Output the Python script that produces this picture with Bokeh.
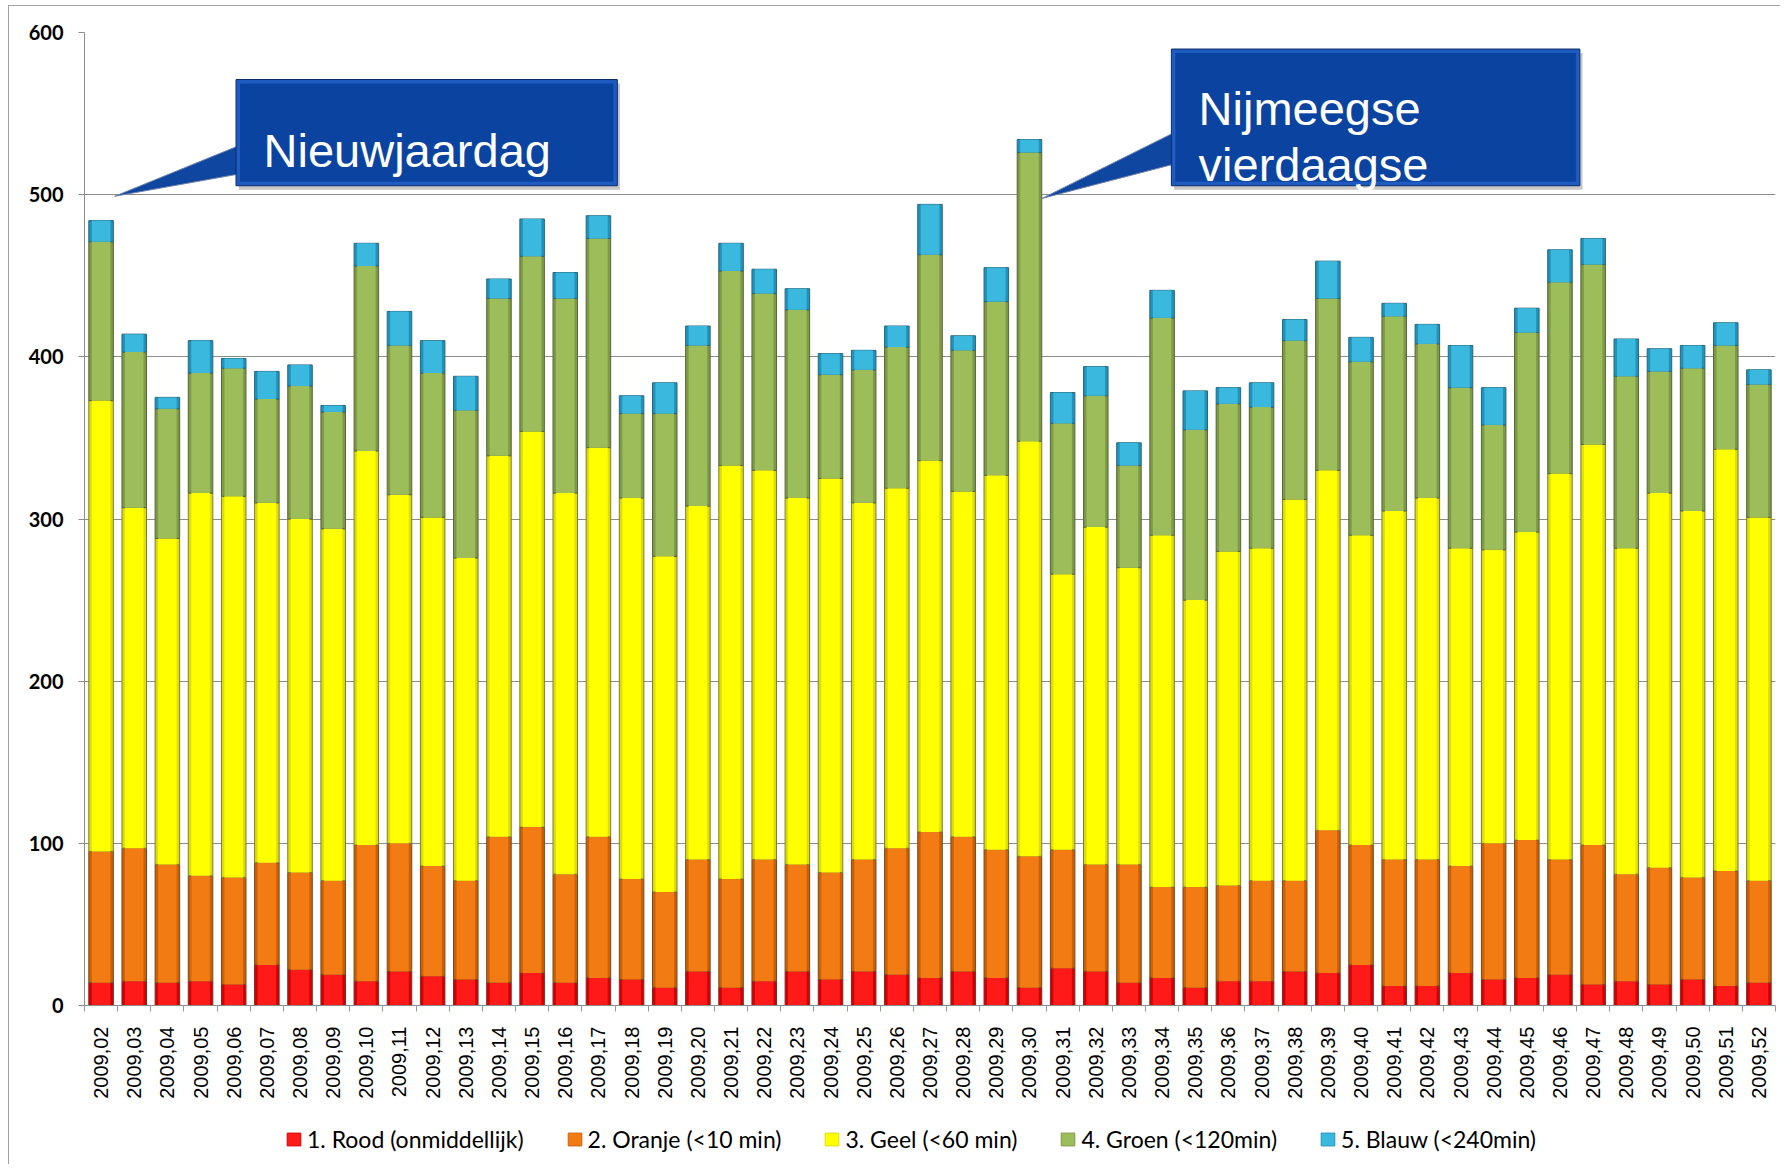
import numpy as np
from bokeh.plotting import figure
from bokeh.layouts import column
from bokeh.models import (ColumnDataSource, FixedTicker, Legend, LegendItem, Range1d,
                          CustomJSTickFormatter)
from bokeh.core.properties import value
from bokeh.embed import file_html
from bokeh.resources import INLINE

weeks = ["2009,02", "2009,03", "2009,04", "2009,05", "2009,06", "2009,07", "2009,08",
         "2009,09", "2009,10", "2009,11", "2009,12", "2009,13", "2009,14", "2009,15",
         "2009,16", "2009,17", "2009,18", "2009,19", "2009,20", "2009,21", "2009,22",
         "2009,23", "2009,24", "2009,25", "2009,26", "2009,27", "2009,28", "2009,29",
         "2009,30", "2009,31", "2009,32", "2009,33", "2009,34", "2009,35", "2009,36",
         "2009,37", "2009,38", "2009,39", "2009,40", "2009,41", "2009,42", "2009,43",
         "2009,44", "2009,45", "2009,46", "2009,47", "2009,48", "2009,49", "2009,50",
         "2009,51", "2009,52"]

rood = [14, 15, 14, 15, 13, 25, 22, 19, 15, 21, 18, 16, 14, 20, 14, 17, 16, 11, 21, 11,
        15, 21, 16, 21, 19, 17, 21, 17, 11, 23, 21, 14, 17, 11, 15, 15, 21, 20, 25, 12,
        12, 20, 16, 17, 19, 13, 15, 13, 16, 12, 14]
oranje = [81, 82, 73, 65, 66, 63, 60, 58, 84, 79, 68, 61, 90, 90, 67, 87, 62, 59, 69, 67,
          75, 66, 66, 69, 78, 90, 83, 79, 81, 73, 66, 73, 56, 62, 59, 62, 56, 88, 74, 78,
          78, 66, 84, 85, 71, 86, 66, 72, 63, 71, 63]
geel = [278, 210, 201, 236, 235, 222, 218, 217, 243, 215, 215, 199, 235, 244, 235, 240,
        235, 207, 218, 255, 240, 226, 243, 220, 222, 229, 213, 231, 256, 170, 208, 183,
        217, 177, 206, 205, 235, 222, 191, 215, 223, 196, 181, 190, 238, 247, 201, 231,
        226, 260, 224]
groen = [98, 96, 80, 74, 79, 64, 82, 72, 114, 92, 89, 91, 97, 108, 120, 129, 52, 88, 99,
         120, 109, 116, 64, 82, 87, 127, 87, 107, 178, 93, 81, 63, 134, 105, 91, 87, 98,
         106, 107, 120, 95, 99, 77, 123, 118, 111, 106, 75, 88, 64, 82]
blauw = [13, 11, 7, 20, 6, 17, 13, 4, 14, 21, 20, 21, 12, 23, 16, 14, 11, 19, 12, 17, 15,
         13, 13, 12, 13, 31, 9, 21, 8, 19, 18, 14, 17, 24, 10, 15, 13, 23, 15, 8, 12, 26,
         23, 15, 20, 16, 23, 14, 14, 14, 9]

series_keys = ["rood", "oranje", "geel", "groen", "blauw"]
series_labels = ["1. Rood (onmiddellijk)", "2. Oranje (<10 min)", "3. Geel (<60 min)",
                 "4. Groen (<120min)", "5. Blauw (<240min)"]
y_ticks = [0, 100, 200, 300, 400, 500, 600]

callout_texts = [["Nieuwjaardag"], ["Nijmeegse", "vierdaagse"]]

# styling
base_colors = ["#ff1a1a", "#f27b14", "#ffff00", "#9dbd5b", "#3bb8de"]
edge_colors = ["#d40000", "#cf6000", "#dede00", "#7e9a44", "#1f93bb"]
line_colors = ["#7a2a2a", "#6e4a26", "#7d7d3a", "#55663a", "#2b6578"]

n = len(weeks)
src = ColumnDataSource(dict(x=np.arange(n) + 0.5, rood=rood, oranje=oranje, geel=geel,
                            groen=groen, blauw=blauw))

W = 75 + 1691 + 6
p = figure(width=W, height=26 + 973 + 100, min_border_left=75, min_border_top=26,
           min_border_right=6, min_border_bottom=100, x_range=Range1d(0, n),
           y_range=Range1d(0, 600), output_backend="svg", toolbar_location=None)
p.margin = (5, 0, 0, 8)
p.styles = {"border-left": "1px solid #a0a0a0", "border-top": "1px solid #a0a0a0"}
p.background_fill_color = "white"
p.border_fill_color = "white"
p.outline_line_color = None

# axes
xa = p.xaxis[0]
xa.ticker = FixedTicker(ticks=list(np.arange(n) + 0.5), minor_ticks=list(range(n + 1)))
xa.formatter = CustomJSTickFormatter(args=dict(labels=weeks),
                                     code="return labels[Math.floor(tick)];")
xa.major_label_orientation = np.pi / 2
xa.major_tick_out = 0
xa.major_tick_in = 0
xa.minor_tick_out = 6
xa.minor_tick_in = 0
xa.minor_tick_line_color = "#8a9aa8"
xa.axis_line_color = "#8c8c8c"
xa.major_label_text_font = "Liberation Sans"
xa.major_label_text_font_size = "20px"
xa.major_label_text_color = "#000000"
xa.major_label_standoff = 15

ya = p.yaxis[0]
ya.ticker = FixedTicker(ticks=y_ticks)
ya.major_tick_out = 6
ya.major_tick_in = 0
ya.minor_tick_line_color = None
ya.axis_line_color = "#8c8c8c"
ya.major_tick_line_color = "#8c8c8c"
ya.major_label_text_font = "Lato"
ya.major_label_text_font_style = "bold"
ya.major_label_text_font_size = "20px"
ya.major_label_text_color = "#000000"
ya.major_label_standoff = 15

p.xgrid.grid_line_color = None
p.ygrid.ticker = FixedTicker(ticks=y_ticks)
p.ygrid.grid_line_color = "#8c8c8c"

# stacked bars (edge layer + bright centre layer)
r_edge = p.vbar_stack(series_keys, x="x", width=0.74, fill_color=edge_colors,
                      line_color=line_colors, line_width=1, source=src)
r_base = p.vbar_stack(series_keys, x="x", width=0.56, fill_color=base_colors,
                      line_color=None, source=src)

# callouts
boxes = [dict(left=4.57, right=16.07, top=571, bottom=505.5, base_top=532, base_bot=513.5,
              tip=(0.91, 499), tx=5.4, ty=[527]),
         dict(left=32.78, right=45.1, top=589.8, bottom=505.5, base_top=540.5, base_bot=520,
              tip=(28.88, 497.7), tx=33.6, ty=[553, 518.5])]
for b, lines in zip(boxes, callout_texts):
    p.quad(left=[b["left"] + 0.08], right=[b["right"] + 0.08], top=[b["top"] - 2.5],
           bottom=[b["bottom"] - 2.5], fill_color="#606060", fill_alpha=0.35, line_color=None)
    tx, ty = b["tip"]
    p.patch(x=[tx, b["left"] + 0.3, b["left"] + 0.3], y=[ty, b["base_top"], b["base_bot"]],
            fill_color="#0e46a0", line_color="#6f82aa", line_width=1)
    p.quad(left=[b["left"]], right=[b["right"]], top=[b["top"]], bottom=[b["bottom"]],
           fill_color="#1f5cc2", line_color="#0a2c66", line_width=1)
    p.quad(left=[b["left"] + 0.12], right=[b["right"] - 0.12], top=[b["top"] - 2.5],
           bottom=[b["bottom"] + 2.5], fill_color="#0b43a0", line_color=None)
    p.text(x=[b["tx"]] * len(lines), y=b["ty"], text=lines,
           text_font=value("Liberation Sans"), text_font_size="47px", text_color="white",
           text_align="left", text_baseline="alphabetic")

# legend strip below the chart (zero-height swatch bars only feed the legend icons)
lf = figure(width=W, height=60, min_border=0, x_axis_type=None, y_axis_type=None,
            output_backend="svg", toolbar_location=None, x_range=Range1d(0, 1),
            y_range=Range1d(0, 1))
lf.margin = (0, 0, 0, 8)
lf.styles = {"border-left": "1px solid #a0a0a0"}
lf.outline_line_color = None
lf.grid.grid_line_color = None
swatch = ColumnDataSource(dict(x=[0.5], top=[0]))
leg_renderers = [lf.vbar(x="x", top="top", width=0.01, source=swatch,
                         fill_color=c, line_color=e, line_width=1)
                 for c, e in zip(base_colors, edge_colors)]
items = [LegendItem(label=lab, renderers=[r], index=0)
         for lab, r in zip(series_labels, leg_renderers)]
legend = Legend(items=items, orientation="horizontal", location=(201, 11),
                label_text_font="Lato", label_text_font_size="23px",
                label_text_color="#000000", glyph_width=17, glyph_height=16,
                label_standoff=5, spacing=42, border_line_color=None,
                background_fill_alpha=0, margin=0, padding=0)
lf.add_layout(legend)

layout = column(p, lf)
open("out.html", "w").write(file_html(layout, INLINE))
